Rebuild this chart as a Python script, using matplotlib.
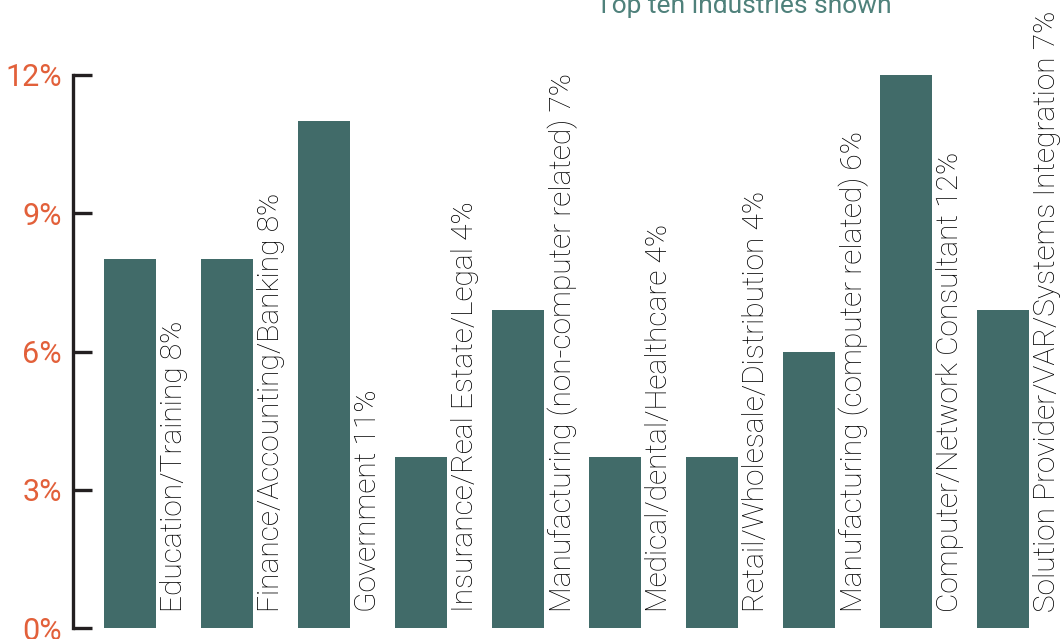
import matplotlib
matplotlib.use("Agg")
import matplotlib.pyplot as plt

# Share of respondents by industry (percent)
industries = [
    "Education/Training",
    "Finance/Accounting/Banking",
    "Government",
    "Insurance/Real Estate/Legal",
    "Manufacturing (non-computer related)",
    "Medical/dental/Healthcare",
    "Retail/Wholesale/Distribution",
    "Manufacturing (computer related)",
    "Computer/Network Consultant",
    "Solution Provider/VAR/Systems Integration",
]
shares = [8.0, 8.0, 11.0, 3.7, 6.9, 3.7, 3.7, 6.0, 12.0, 6.9]
y_ticks = [0, 3, 6, 9, 12]
y_tick_labels = ["0%", "3%", "6%", "9%", "12%"]
subtitle = "Top ten industries shown"

BAR = "#416b69"
ORANGE = "#e2603a"
AXIS = "#231f20"
TEAL_TEXT = "#4f817b"

W, H = 1062, 639
fig = plt.figure(figsize=(W / 100, H / 100), dpi=100)
ax = fig.add_axes([73 / W, (H - 628) / H, (W - 73) / W, (628 - 75) / H])

bar_w = 0.536
xs = list(range(len(industries)))
ax.bar(xs, shares, width=bar_w, align="edge", color=BAR, linewidth=0)

ax.set_xlim(-0.317, 9.875)
ax.set_ylim(0, 12)

for x, name, v in zip(xs, industries, shares):
    ax.text(x + bar_w + 0.04, 0.35, f"{name} {v:.0f}%", rotation=90,
            ha="left", va="bottom", fontsize=21.5, color="black",
            family="Roboto", weight="light")

for s in ("top", "right", "bottom"):
    ax.spines[s].set_visible(False)
ax.spines["left"].set_color(AXIS)
ax.spines["left"].set_linewidth(2.4)
ax.set_xticks([])
ax.set_yticks(y_ticks)
ax.set_yticklabels(y_tick_labels, family="Roboto", weight="normal",
                   fontsize=22, color=ORANGE)
ax.tick_params(axis="y", direction="in", length=14, width=2.4, color=AXIS, pad=8)

fig.text(892 / W, 1 - 13 / H, subtitle, ha="right", va="baseline",
         fontsize=19, color=TEAL_TEXT, family="Roboto")

fig.savefig("out.png", dpi=100)
